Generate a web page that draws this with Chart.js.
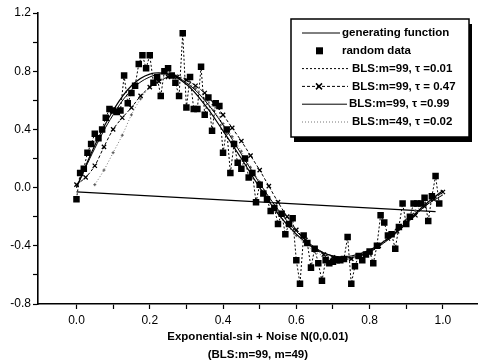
<!DOCTYPE html>
<html>
<head>
<meta charset="utf-8">
<script src="https://cdn.jsdelivr.net/npm/chart.js@4/dist/chart.umd.min.js"></script>
<style>
  body { margin: 0; background: #fff; }
  #wrap { width: 483px; height: 364px; }
</style>
</head>
<body>
<div id="wrap"><canvas id="myChart" width="483" height="364"></canvas></div>
<script>
// tick values (labels only on every other one)
const xTickValues = [0.0, 0.1, 0.2, 0.3, 0.4, 0.5, 0.6, 0.7, 0.8, 0.9, 1.0];
const yTickValues = [-0.8, -0.6, -0.4, -0.2, 0.0, 0.2, 0.4, 0.6, 0.8, 1.0, 1.2];

// x grids of the series
const x05 = [0.00, 0.05, 0.10, 0.15, 0.20, 0.25, 0.30, 0.35, 0.40, 0.45, 0.50,
             0.55, 0.60, 0.65, 0.70, 0.75, 0.80, 0.85, 0.90, 0.95, 1.00];
const x01 = [0.00, 0.01, 0.02, 0.03, 0.04, 0.05, 0.06, 0.07, 0.08, 0.09,
             0.10, 0.11, 0.12, 0.13, 0.14, 0.15, 0.16, 0.17, 0.18, 0.19,
             0.20, 0.21, 0.22, 0.23, 0.24, 0.25, 0.26, 0.27, 0.28, 0.29,
             0.30, 0.31, 0.32, 0.33, 0.34, 0.35, 0.36, 0.37, 0.38, 0.39,
             0.40, 0.41, 0.42, 0.43, 0.44, 0.45, 0.46, 0.47, 0.48, 0.49,
             0.50, 0.51, 0.52, 0.53, 0.54, 0.55, 0.56, 0.57, 0.58, 0.59,
             0.60, 0.61, 0.62, 0.63, 0.64, 0.65, 0.66, 0.67, 0.68, 0.69,
             0.70, 0.71, 0.72, 0.73, 0.74, 0.75, 0.76, 0.77, 0.78, 0.79,
             0.80, 0.81, 0.82, 0.83, 0.84, 0.85, 0.86, 0.87, 0.88, 0.89,
             0.90, 0.91, 0.92, 0.93, 0.94, 0.95, 0.96, 0.97, 0.98, 0.99];
const x025 = [0.000, 0.025, 0.050, 0.075, 0.100, 0.125, 0.150, 0.175, 0.200, 0.225,
              0.250, 0.275, 0.300, 0.325, 0.350, 0.375, 0.400, 0.425, 0.450, 0.475,
              0.500, 0.525, 0.550, 0.575, 0.600, 0.625, 0.650, 0.675, 0.700, 0.725,
              0.750, 0.775, 0.800, 0.825, 0.850, 0.875, 0.900, 0.925, 0.950, 0.975, 1.000];
const x025m49 = [0.050, 0.075, 0.100, 0.125, 0.150, 0.175, 0.200, 0.225,
                 0.250, 0.275, 0.300, 0.325, 0.350, 0.375, 0.400, 0.425, 0.450, 0.475,
                 0.500, 0.525, 0.550, 0.575, 0.600, 0.625, 0.650, 0.675, 0.700, 0.725,
                 0.750, 0.775, 0.800, 0.825, 0.850, 0.875, 0.900, 0.925, 0.950, 0.975];

// generating function
const genY = [0.00, 0.29, 0.53, 0.70, 0.78, 0.78, 0.71, 0.57, 0.39, 0.20, 0.00,
              -0.18, -0.32, -0.42, -0.47, -0.47, -0.43, -0.35, -0.24, -0.12, -0.02];

// random data (noisy samples)
const dataY = [-0.08, 0.10, 0.13, 0.24, 0.30, 0.37, 0.34, 0.40, 0.48, 0.54,
               0.53, 0.52, 0.53, 0.77, 0.58, 0.65, 0.70, 0.85, 0.91, 0.82,
               0.91, 0.72, 0.76, 0.63, 0.80, 0.82, 0.77, 0.72, 0.63, 1.06,
               0.55, 0.76, 0.54, 0.54, 0.83, 0.50, 0.62, 0.39, 0.58, 0.56,
               0.24, 0.40, 0.10, 0.30, 0.17, 0.13, 0.20, 0.07, 0.10, -0.10,
               0.02, -0.04, -0.08, -0.16, -0.14, -0.25, -0.18, -0.32, -0.25, -0.21,
               -0.50, -0.66, -0.33, -0.38, -0.55, -0.42, -0.52, -0.64, -0.50, -0.52,
               -0.51, -0.50, -0.50, -0.49, -0.34, -0.66, -0.54, -0.47, -0.50, -0.46,
               -0.44, -0.52, -0.40, -0.19, -0.24, -0.33, -0.32, -0.42, -0.27, -0.11,
               -0.25, -0.20, -0.11, -0.11, -0.11, -0.07, -0.23, -0.06, 0.08, -0.11];

// BLS m=99 tau=0.01 follows the samples almost exactly
const bls001Y = dataY;

// BLS m=99 tau=0.47
const bls047Y = [0.02, 0.07, 0.15, 0.28, 0.40, 0.48, 0.55, 0.63, 0.69, 0.73,
                 0.76, 0.76, 0.74, 0.70, 0.65, 0.58, 0.50, 0.41, 0.32, 0.22,
                 0.12, 0.01, -0.10, -0.20, -0.29, -0.36, -0.42, -0.46, -0.48, -0.49,
                 -0.49, -0.47, -0.45, -0.40, -0.35, -0.30, -0.24, -0.19, -0.13, -0.08, -0.03];

// BLS m=99 tau=0.99
const bls099Y = [0.00, 0.27, 0.50, 0.67, 0.76, 0.78, 0.72, 0.60, 0.43, 0.23, 0.03,
                 -0.15, -0.30, -0.41, -0.47, -0.48, -0.44, -0.36, -0.25, -0.13, -0.05];

// BLS m=49 tau=0.02
const bls49Y = [0.02, 0.12, 0.24, 0.36, 0.50, 0.61, 0.69, 0.74,
                0.77, 0.77, 0.74, 0.68, 0.61, 0.53, 0.44, 0.35, 0.25, 0.14,
                0.04, -0.07, -0.17, -0.26, -0.33, -0.39, -0.44, -0.47, -0.49, -0.50,
                -0.49, -0.47, -0.44, -0.39, -0.34, -0.28, -0.22, -0.16, -0.11, -0.06];

// long nearly flat line across the plot
const flatX = [0.00, 0.98];
const flatY = [-0.03, -0.165];

function pts(xs, ys) {
  return ys.map((y, i) => ({ x: xs[i], y: y }));
}

const legendRows = [
  { text: "generating function", kind: "gen", tx: 342 },
  { text: "random data", kind: "data", tx: 342 },
  { text: "BLS:m=99, \u03C4 =0.01", kind: "b001", tx: 352 },
  { text: "BLS:m=99, \u03C4 = 0.47", kind: "b047", tx: 352 },
  { text: "BLS:m=99, \u03C4 =0.99", kind: "b099", tx: 349 },
  { text: "BLS:m=49, \u03C4 =0.02", kind: "b49", tx: 352 }
];

// legend box with shadow, drawn on top of the plot
const boxLegend = {
  id: "boxLegend",
  afterDraw(chart) {
    const ctx = chart.ctx;
    const bx = 291, by = 19, bw = 178, bh = 118;
    ctx.save();
    ctx.fillStyle = "#000";
    ctx.fillRect(bx + 3, by + 5, bw, bh);
    ctx.fillStyle = "#fff";
    ctx.fillRect(bx, by, bw, bh);
    ctx.strokeStyle = "#000";
    ctx.lineWidth = 1.5;
    ctx.strokeRect(bx, by, bw, bh);
    ctx.font = "bold 11.5px 'Liberation Sans', Arial, sans-serif";
    ctx.textBaseline = "middle";
    ctx.fillStyle = "#000";
    legendRows.forEach((r, i) => {
      const y = 33 + i * 17.8;
      ctx.strokeStyle = "#000";
      ctx.lineWidth = 1;
      ctx.setLineDash([]);
      if (r.kind === "gen") {
        ctx.beginPath(); ctx.moveTo(302, y); ctx.lineTo(340, y); ctx.stroke();
      } else if (r.kind === "data") {
        ctx.fillRect(316, y - 3.5, 7, 7);
      } else if (r.kind === "b001") {
        ctx.setLineDash([2, 2]);
        ctx.beginPath(); ctx.moveTo(302, y); ctx.lineTo(348, y); ctx.stroke();
      } else if (r.kind === "b047") {
        ctx.setLineDash([3, 2]);
        ctx.beginPath(); ctx.moveTo(302, y); ctx.lineTo(348, y); ctx.stroke();
        ctx.setLineDash([]);
        ctx.lineWidth = 1.5;
        ctx.beginPath();
        ctx.moveTo(316, y - 3); ctx.lineTo(322, y + 3);
        ctx.moveTo(322, y - 3); ctx.lineTo(316, y + 3);
        ctx.stroke();
      } else if (r.kind === "b099") {
        ctx.beginPath(); ctx.moveTo(302, y); ctx.lineTo(347, y); ctx.stroke();
      } else {
        ctx.strokeStyle = "#777";
        ctx.setLineDash([1, 2]);
        ctx.beginPath(); ctx.moveTo(302, y); ctx.lineTo(349, y); ctx.stroke();
      }
      ctx.setLineDash([]);
      ctx.fillStyle = "#000";
      ctx.fillText(r.text, r.tx, y);
    });
    ctx.restore();
  }
};

const ctx = document.getElementById("myChart");

new Chart(ctx, {
  type: "scatter",
  data: {
    datasets: [
      {
        label: "random data",
        data: pts(x01, dataY),
        showLine: false,
        pointStyle: "rect",
        pointRadius: 4.6,
        backgroundColor: "#000",
        borderColor: "#000",
        borderWidth: 0
      },
      {
        label: "generating function",
        data: pts(x05, genY),
        showLine: true,
        borderColor: "#000",
        borderWidth: 1.2,
        pointRadius: 0,
        tension: 0.4
      },
      {
        label: "BLS:m=99, \u03C4 =0.01",
        data: pts(x01, bls001Y),
        showLine: true,
        borderColor: "#000",
        borderWidth: 1,
        borderDash: [2, 2],
        pointRadius: 1,
        backgroundColor: "#000",
        tension: 0
      },
      {
        label: "BLS:m=99, \u03C4 = 0.47",
        data: pts(x025, bls047Y),
        showLine: true,
        borderColor: "#000",
        borderWidth: 1,
        borderDash: [3, 2],
        pointStyle: "crossRot",
        pointRadius: 3,
        pointBorderWidth: 1.3,
        tension: 0.3
      },
      {
        label: "BLS:m=99, \u03C4 =0.99",
        data: pts(x05, bls099Y),
        showLine: true,
        borderColor: "#000",
        borderWidth: 1,
        pointRadius: 0,
        tension: 0.4
      },
      {
        label: "BLS:m=49, \u03C4 =0.02",
        data: pts(x025m49, bls49Y),
        showLine: true,
        borderColor: "#777",
        borderWidth: 1,
        borderDash: [1, 2],
        pointStyle: "cross",
        pointRadius: 1.5,
        pointBorderColor: "#555",
        tension: 0.3
      },
      {
        label: "flat",
        data: pts(flatX, flatY),
        showLine: true,
        borderColor: "#000",
        borderWidth: 1.2,
        pointRadius: 0
      }
    ]
  },
  options: {
    responsive: false,
    animation: false,
    layout: { padding: { top: 13, right: 0, left: 0, bottom: 0 } },
    plugins: {
      legend: { display: false },
      tooltip: { enabled: false }
    },
    scales: {
      x: {
        type: "linear",
        min: -0.105,
        max: 1.095,
        afterBuildTicks: (scale) => { scale.ticks = xTickValues.map(v => ({ value: v })); },
        afterFit: (scale) => { scale.height = 60; },
        grid: { drawOnChartArea: false, drawTicks: true, tickLength: 5, color: "#000", tickWidth: 1.2 },
        border: { display: true, color: "#000", width: 1.6 },
        ticks: {
          color: "#000",
          padding: 4,
          maxRotation: 0,
          autoSkip: false,
          font: { family: "'Liberation Sans', Arial, sans-serif", size: 12 },
          callback: (v, i) => (i % 2 === 0 ? Number(v).toFixed(1) : "")
        },
        title: {
          display: true,
          text: ["Exponential-sin + Noise N(0,0.01)", "(BLS:m=99, m=49)"],
          color: "#000",
          padding: { top: 0, bottom: 0 },
          font: { family: "'Liberation Sans', Arial, sans-serif", size: 11.5, weight: "bold", lineHeight: "18px" }
        }
      },
      y: {
        type: "linear",
        min: -0.8,
        max: 1.2,
        afterBuildTicks: (scale) => { scale.ticks = yTickValues.map(v => ({ value: v })); },
        afterFit: (scale) => { scale.width = 38; },
        grid: { drawOnChartArea: false, drawTicks: true, tickLength: 5, color: "#000", tickWidth: 1.2 },
        border: { display: true, color: "#000", width: 1.6 },
        ticks: {
          color: "#000",
          padding: 2,
          autoSkip: false,
          font: { family: "'Liberation Sans', Arial, sans-serif", size: 12 },
          callback: (v, i) => (i % 2 === 0 ? Number(v).toFixed(1) : "")
        }
      }
    }
  },
  plugins: [boxLegend]
});
</script>
</body>
</html>
